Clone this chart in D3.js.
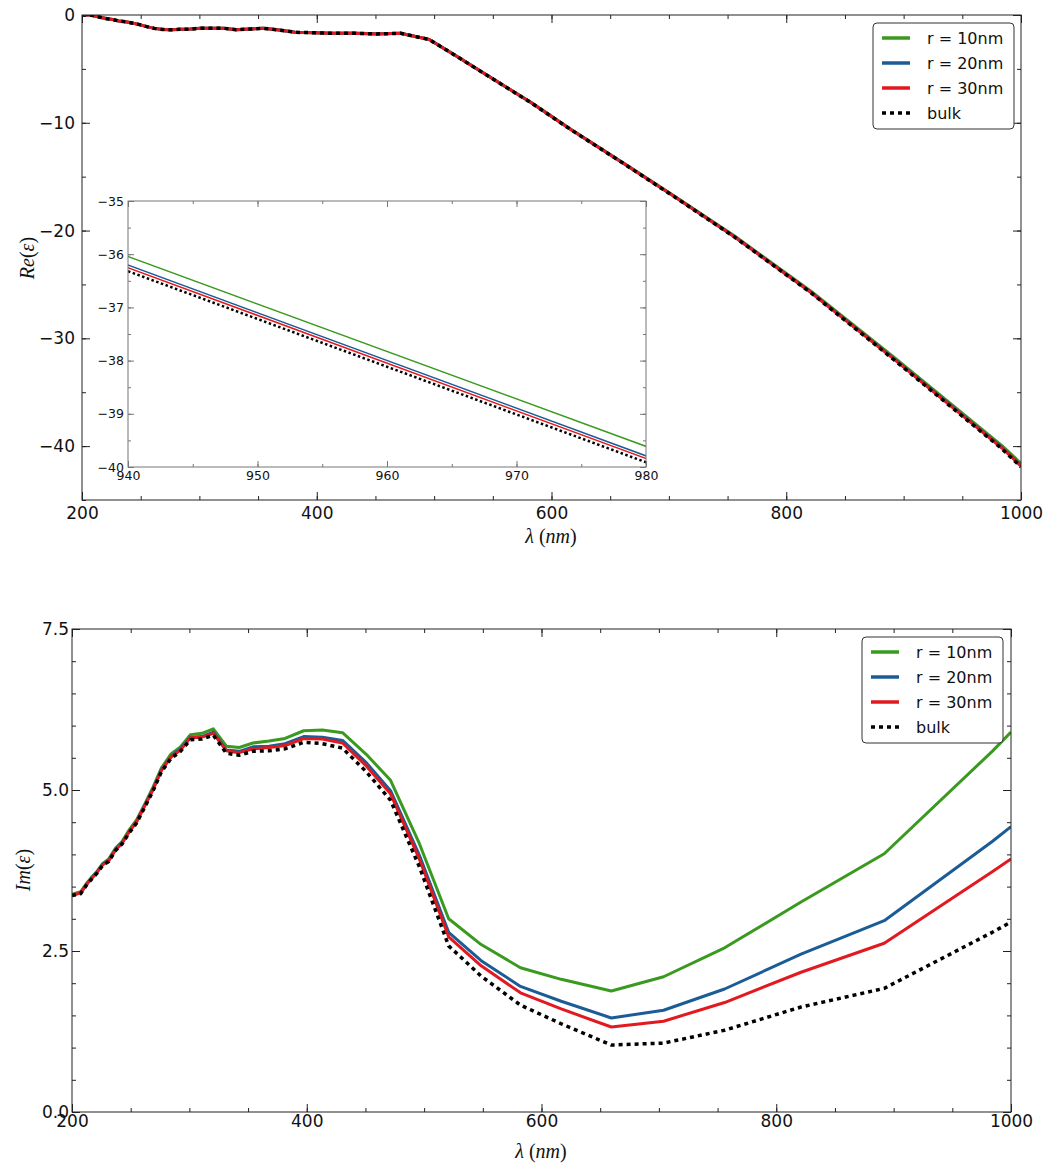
<!DOCTYPE html>
<html>
<head>
<meta charset="utf-8">
<script src="https://cdn.jsdelivr.net/npm/d3@7"></script>
<style>
  body { margin: 0; background: #fff; }
  svg { display: block; }
  .tick text { font-family: "DejaVu Sans", sans-serif; fill: #111; }
  .domain { display: none; }
</style>
</head>
<body>
<svg id="chart" width="1051" height="1165"></svg>
<script>
// wavelengths (nm)
var lambda = [200, 207.3, 211.9, 216.4, 221.4, 226.2, 231.3, 237.1, 242.6, 249.0, 255.1, 261.6, 268.9, 276.1, 284.4, 292.4,
  300.9, 310.7, 320.4, 331.5, 342.5, 354.2, 367.9, 381.5, 397.4, 413.3, 430.5, 450.9, 471.4, 495.9, 520.9, 548.6,
  582.1, 616.8, 659.5, 704.0, 756.0, 821.1, 892.0, 984.0, 1000];

// Re(eps)
var re_bulk = [0.00, -0.01, -0.13, -0.23, -0.35, -0.42, -0.55, -0.62, -0.74, -0.89, -1.08, -1.24, -1.35, -1.37, -1.33, -1.31,
  -1.23, -1.24, -1.23, -1.36, -1.31, -1.23, -1.40, -1.60, -1.65, -1.70, -1.69, -1.76, -1.70, -2.28, -3.95, -5.84,
  -8.11, -10.66, -13.65, -16.82, -20.61, -25.78, -32.01, -40.27, -41.93];
var re_r10 = [0.00, -0.01, -0.13, -0.23, -0.35, -0.42, -0.55, -0.62, -0.74, -0.89, -1.08, -1.24, -1.35, -1.37, -1.33, -1.31,
  -1.23, -1.24, -1.23, -1.36, -1.31, -1.23, -1.40, -1.60, -1.65, -1.69, -1.68, -1.75, -1.69, -2.27, -3.93, -5.82,
  -8.08, -10.62, -13.59, -16.74, -20.51, -25.63, -31.76, -39.97, -41.61];
var re_r20 = [0.00, -0.01, -0.13, -0.23, -0.35, -0.42, -0.55, -0.62, -0.74, -0.89, -1.08, -1.24, -1.35, -1.37, -1.33, -1.31,
  -1.23, -1.24, -1.23, -1.36, -1.31, -1.23, -1.40, -1.60, -1.65, -1.70, -1.69, -1.76, -1.70, -2.28, -3.94, -5.83,
  -8.10, -10.64, -13.63, -16.79, -20.57, -25.72, -31.90, -40.15, -41.80];
var re_r30 = [0.00, -0.01, -0.13, -0.23, -0.35, -0.42, -0.55, -0.62, -0.74, -0.89, -1.08, -1.24, -1.35, -1.37, -1.33, -1.31,
  -1.23, -1.24, -1.23, -1.36, -1.31, -1.23, -1.40, -1.60, -1.65, -1.70, -1.69, -1.76, -1.70, -2.28, -3.94, -5.83,
  -8.10, -10.65, -13.64, -16.80, -20.59, -25.75, -31.95, -40.20, -41.86];

// Im(eps)
var im_bulk = [3.36, 3.39, 3.51, 3.61, 3.71, 3.83, 3.89, 4.06, 4.16, 4.34, 4.49, 4.72, 4.98, 5.28, 5.49, 5.60,
  5.78, 5.79, 5.85, 5.57, 5.54, 5.60, 5.61, 5.64, 5.74, 5.72, 5.65, 5.28, 4.84, 3.81, 2.58, 2.11,
  1.66, 1.37, 1.04, 1.07, 1.27, 1.63, 1.92, 2.79, 2.95];
var im_r10 = [3.38, 3.42, 3.54, 3.64, 3.74, 3.86, 3.93, 4.10, 4.20, 4.39, 4.54, 4.77, 5.04, 5.34, 5.56, 5.67,
  5.86, 5.88, 5.95, 5.68, 5.66, 5.73, 5.76, 5.80, 5.92, 5.93, 5.89, 5.55, 5.15, 4.17, 3.00, 2.60,
  2.24, 2.06, 1.88, 2.10, 2.55, 3.26, 4.01, 5.60, 5.90];
var im_r20 = [3.37, 3.40, 3.52, 3.63, 3.73, 3.85, 3.91, 4.08, 4.18, 4.36, 4.51, 4.75, 5.01, 5.31, 5.52, 5.64,
  5.82, 5.83, 5.90, 5.62, 5.60, 5.67, 5.68, 5.72, 5.83, 5.82, 5.77, 5.42, 4.99, 3.99, 2.79, 2.35,
  1.95, 1.72, 1.46, 1.58, 1.91, 2.45, 2.97, 4.20, 4.43];
var im_r30 = [3.37, 3.40, 3.52, 3.62, 3.72, 3.84, 3.90, 4.07, 4.17, 4.36, 4.51, 4.74, 5.00, 5.30, 5.51, 5.62,
  5.81, 5.82, 5.88, 5.61, 5.58, 5.64, 5.66, 5.69, 5.80, 5.79, 5.73, 5.37, 4.94, 3.93, 2.72, 2.27,
  1.85, 1.60, 1.32, 1.41, 1.70, 2.17, 2.62, 3.73, 3.93];

var names = ["r = 10nm", "r = 20nm", "r = 30nm", "bulk"];
var colors = ["#3a9a1f", "#1b5c96", "#e2191f", "#000"];

var svg = d3.select("#chart");
var tickFont = 17;

function frame(g, x, y, opt) {
  // opt: xMajor, xMinor, yMajor, yMinor, yFmt, xFmt, font, major, minor, color
  var W = x.range(), H = y.range();
  var bottom = H[0], top = H[1], left = W[0], right = W[1];
  function ax(gen, scale, vals, size, fmt, tr, labels) {
    var a = gen(scale).tickValues(vals).tickSize(-size).tickPadding(opt.pad || 6)
      .tickFormat(labels ? fmt : "");
    var s = g.append("g").attr("transform", tr).call(a);
    s.selectAll(".tick line").attr("stroke", opt.color).attr("stroke-width", 1);
    s.selectAll(".tick text").style("font-size", opt.font + "px");
    return s;
  }
  ax(d3.axisBottom, x, opt.xMinor, opt.minor, null, "translate(0," + bottom + ")", false);
  ax(d3.axisTop, x, opt.xMinor, opt.minor, null, "translate(0," + top + ")", false);
  ax(d3.axisLeft, y, opt.yMinor, opt.minor, null, "translate(" + left + ",0)", false);
  ax(d3.axisRight, y, opt.yMinor, opt.minor, null, "translate(" + right + ",0)", false);
  ax(d3.axisBottom, x, opt.xMajor, opt.major, opt.xFmt, "translate(0," + bottom + ")", true);
  ax(d3.axisTop, x, opt.xMajor, opt.major, null, "translate(0," + top + ")", false);
  ax(d3.axisLeft, y, opt.yMajor, opt.major, opt.yFmt, "translate(" + left + ",0)", true);
  ax(d3.axisRight, y, opt.yMajor, opt.major, null, "translate(" + right + ",0)", false);
  g.append("rect").attr("x", left).attr("y", top).attr("width", right - left).attr("height", bottom - top)
    .attr("fill", "none").attr("stroke", opt.color).attr("stroke-width", 1);
}

function curves(g, x, y, series, clipId, lw, dotW, dash) {
  var W = x.range(), H = y.range();
  svg.select("defs").append("clipPath").attr("id", clipId).append("rect")
    .attr("x", W[0]).attr("y", H[1]).attr("width", W[1] - W[0]).attr("height", H[0] - H[1]);
  var cg = g.append("g").attr("clip-path", "url(#" + clipId + ")");
  series.forEach(function(s, i) {
    var line = d3.line().x(function(d, j) { return x(lambda[j]); }).y(function(d) { return y(d); });
    var p = cg.append("path").datum(s).attr("d", line).attr("fill", "none")
      .attr("stroke", colors[i]).attr("stroke-linejoin", "round");
    if (i === 3) p.attr("stroke-width", dotW).attr("stroke-dasharray", dash);
    else p.attr("stroke-width", lw);
  });
}

function legend(g, x0, y0) {
  var w = 141, h = 106;
  g.append("rect").attr("x", x0).attr("y", y0).attr("width", w).attr("height", h)
    .attr("rx", 4).attr("fill", "#fff").attr("stroke", "#333").attr("stroke-width", 1);
  names.forEach(function(n, i) {
    var yy = y0 + 15 + i * 25;
    var l = g.append("line").attr("x1", x0 + 9).attr("x2", x0 + 37).attr("y1", yy).attr("y2", yy)
      .attr("stroke", colors[i]);
    if (i === 3) l.attr("stroke-width", 3.5).attr("stroke-dasharray", "4,4");
    else l.attr("stroke-width", 3.5);
    g.append("text").attr("x", x0 + 54).attr("y", yy + 6).text(n)
      .style("font-family", "DejaVu Sans, sans-serif").style("font-size", "16px").attr("fill", "#111");
  });
}

function mathLabel(g, x, y, parts, rotate) {
  var t = g.append("text").attr("text-anchor", "middle")
    .style("font-family", "'Liberation Serif', serif").style("font-size", "20px").attr("fill", "#111");
  if (rotate) t.attr("transform", "translate(" + x + "," + y + ") rotate(-90)");
  else t.attr("x", x).attr("y", y);
  parts.forEach(function(p) {
    t.append("tspan").text(p[0]).style("font-style", p[1] ? "italic" : "normal");
  });
}

svg.append("defs");

// ---------- top: Re(eps)
var gTop = svg.append("g");
var xT = d3.scaleLinear().domain([200, 1000]).range([82, 1021]);
var yT = d3.scaleLinear().domain([-45, 0]).range([500, 15]);
curves(gTop, xT, yT, [re_r10, re_r20, re_r30, re_bulk], "clipTop", 3, 3.5, "4,4");
frame(gTop, xT, yT, {
  xMajor: [200, 400, 600, 800, 1000], xMinor: d3.range(200, 1001, 50),
  yMajor: [-40, -30, -20, -10, 0], yMinor: d3.range(-45, 1, 5),
  xFmt: d3.format("d"), yFmt: d3.format("d"), font: tickFont, major: 8, minor: 4, color: "#222", pad: 7
});
legend(gTop, 873, 23);
mathLabel(gTop, 551, 543, [["λ", true], [" (", false], ["nm", true], [")", false]], false);
mathLabel(gTop, 34, 258, [["Re", true], ["(", false], ["ε", true], [")", false]], true);

// inset
var gIn = gTop.append("g");
var xI = d3.scaleLinear().domain([940, 980]).range([128, 646]);
var yI = d3.scaleLinear().domain([-40, -35]).range([467, 201]);
gIn.append("rect").attr("x", 128).attr("y", 201).attr("width", 518).attr("height", 266).attr("fill", "#fff");
curves(gIn, xI, yI, [re_r10, re_r20, re_r30, re_bulk], "clipIn", 1.5, 2.5, "2.5,2.5");
frame(gIn, xI, yI, {
  xMajor: [940, 950, 960, 970, 980], xMinor: d3.range(940, 981, 5),
  yMajor: [-40, -39, -38, -37, -36, -35], yMinor: d3.range(-40, -34.9, 0.5),
  xFmt: d3.format("d"), yFmt: d3.format("d"), font: 12.5, major: 6, minor: 3, color: "#777", pad: 4
});

// ---------- bottom: Im(eps)
var gBot = svg.append("g");
var xB = d3.scaleLinear().domain([200, 1000]).range([72, 1011]);
var yB = d3.scaleLinear().domain([0, 7.5]).range([1112, 629]);
curves(gBot, xB, yB, [im_r10, im_r20, im_r30, im_bulk], "clipBot", 3, 3.5, "4,4");
frame(gBot, xB, yB, {
  xMajor: [200, 400, 600, 800, 1000], xMinor: d3.range(200, 1001, 50),
  yMajor: [0, 2.5, 5, 7.5], yMinor: d3.range(0, 7.51, 0.5),
  xFmt: d3.format("d"), yFmt: d3.format(".1f"), font: tickFont, major: 8, minor: 4, color: "#222", pad: 3
});
legend(gBot, 862, 637);
mathLabel(gBot, 541, 1158, [["λ", true], [" (", false], ["nm", true], [")", false]], false);
mathLabel(gBot, 30, 870, [["Im", true], ["(", false], ["ε", true], [")", false]], true);
</script>
</body>
</html>
